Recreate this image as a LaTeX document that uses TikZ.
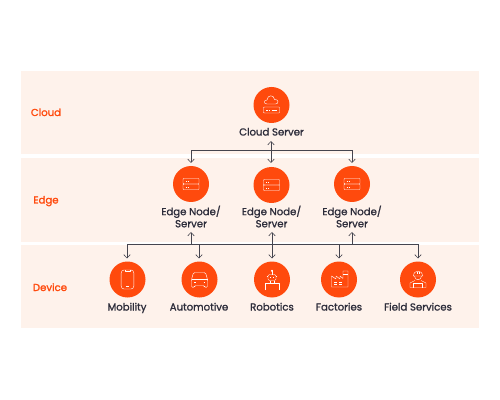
\documentclass[tikz,border=0pt]{standalone}
\usepackage{fontspec}
\setmainfont{Poppins}
\definecolor{bandfill}{HTML}{FEF2EB}
\definecolor{hubfill}{HTML}{FF4A0D}
\definecolor{linkgray}{HTML}{45454F}
\definecolor{captiontext}{HTML}{2C2C3A}
\usetikzlibrary{arrows.meta}
\tikzset{
  ico/.style={draw=white,line width=0.3pt,line join=round},
  pics/serverico/.style={code={
    \draw[ico,rounded corners=0.5] (-8,-5.5) rectangle (8,0);
    \draw[ico,rounded corners=0.5] (-8,0) rectangle (8,5.5);
    \draw[ico] (-5.5,-2.8)--(-4.5,-2.8) (-3.5,-2.8)--(-2.5,-2.8) (-5.5,2.8)--(-4.5,2.8) (-3.5,2.8)--(-2.5,2.8);
  }},
  pics/cloudico/.style={code={
    \draw[ico,rounded corners=0.5] (-8,2) rectangle (8,8);
    \draw[ico] (-5.5,5)--(-4,5) (-3,5)--(-1.5,5) (0,5)--(5.5,5);
    \draw[ico] (-4.5,-1) .. controls (-8,-1) and (-8,-5) .. (-4.5,-5) .. controls (-4,-10.5) and (2.5,-10.5) .. (3,-5.5) .. controls (7.5,-6) and (7.5,-1) .. (4,-1) -- cycle;
  }},
  pics/phoneico/.style={code={
    \draw[ico,rounded corners=2] (-6.3,-9.5) rectangle (6.3,9.5);
    \draw[ico] (-2.5,-9.5)--(-2.5,-8)--(2.5,-8)--(2.5,-9.5) (-1.5,7)--(1.5,7);
  }},
  pics/carico/.style={code={
    \draw[ico,rounded corners=1] (-8,8)--(-8,0)--(-6,-7)--(6,-7)--(8,0)--(8,8)--(5,8)--(5,6)--(-5,6)--(-5,8)--cycle;
    \draw[ico] (-8,0)--(8,0);
    \draw[ico] (-5.5,3)--(-4,3) (4,3)--(5.5,3);
  }},
  pics/robotico/.style={code={
    \draw[ico] (0,-8.5)--(0,-5);
    \draw[ico,fill=white] (0,-8.7) circle (0.8);
    \draw[ico,rounded corners=1] (-4,-5) rectangle (4,1);
    \draw[ico] (-5.3,-3)--(-4,-3) (5.3,-3)--(4,-3) (-2,-2.5)--(-1,-2.5) (1,-2.5)--(2,-2.5);
    \draw[ico] (-2,1)--(-2,3.5) (2,1)--(2,3.5);
    \draw[ico] (-7,10.5)--(-7,3.5)--(7,3.5)--(7,10.5);
  }},
  pics/plantico/.style={code={
    \draw[ico] (-7.5,7.5)--(-7.5,-3.5)--(-3,-0.5)--(-3,-3.5)--(1,-0.5)--(1,-3.5)--(4,-1)--(4,-8.5)--(9,-8.5)--(9,7.5)--cycle;
    \draw[ico] (4,-5)--(9,-5) (-5,2.5)--(-2.5,2.5) (0,2.5)--(3,2.5) (-5,5)--(-2.5,5) (0,5)--(3,5);
  }},
  pics/workerico/.style={code={
    \draw[ico] (-5,-3.5)--(5,-3.5) (-4.5,-3.5) .. controls (-4.5,-10) and (4.5,-10) .. (4.5,-3.5);
    \draw[ico] (-1.2,-8)--(-1.2,-5.5) (1.2,-8)--(1.2,-5.5);
    \draw[ico] (-3.5,-3.5) .. controls (-3.5,1.5) and (3.5,1.5) .. (3.5,-3.5);
    \draw[ico] (-3,1)--(-8,3.5)--(-8,8)--(8,8)--(8,3.5)--(3,1);
    \draw[ico] (-4.5,8)--(-4.5,3.5)--(4.5,3.5)--(4.5,8);
  }},
  lnk/.style={draw=linkgray,line width=0.5pt},
  arr/.style={lnk,-{Straight Barb[length=2.4pt,width=4.6pt,line width=0.45pt]}},
  dblarr/.style={lnk,{Straight Barb[length=2.4pt,width=4.6pt,line width=0.45pt]}-{Straight Barb[length=2.4pt,width=4.6pt,line width=0.45pt]}}
}
\begin{document}
\begin{tikzpicture}[x=0.025cm,y=-0.025cm,
  every node/.style={font=\fontsize{7.2}{8.6}\selectfont\addfontfeatures{FakeBold=1.2}},
  band/.style={fill=bandfill,draw=none,minimum width=458*0.025cm,inner sep=0pt,outer sep=0pt},
  tier/.style={text=hubfill,font=\fontsize{7.2}{8.6}\selectfont\addfontfeatures{FakeBold=1.6},anchor=base},
  hub/.style={circle,fill=hubfill,draw=none,minimum size=36*0.025cm,inner sep=0pt},
  capt/.style={text=captiontext,align=center,inner sep=0pt},
  captbase/.style={capt,anchor=base}
]
\useasboundingbox (0,0) rectangle (500,400);
\fill[white] (0,0) rectangle (500,400);
\node[band,minimum height=83*0.025cm] (cloudband) at (250,112.5) {};
\node[band,minimum height=84*0.025cm] (edgeband) at (250,200.5) {};
\node[band,minimum height=83*0.025cm] (deviceband) at (250,286.5) {};
\node[tier] (cloudlab) at (46,116) {Cloud};
\node[tier] (edgelab) at (46,203.5) {Edge};
\node[tier] (devicelab) at (50,291) {Device};
% top
\node[hub] (cs) at (271.5,105) {};
\pic at (cs) {cloudico};
\node[captbase] (cscap) at (271.5,135.5) {Cloud Server};
% edge row
\node[hub] (e1) at (191,184) {};
\node[hub] (e2) at (271.5,185) {};
\node[hub] (e3) at (352,184) {};
\pic at (e1) {serverico};
\pic at (e2) {serverico};
\pic at (e3) {serverico};
\node[capt] (e1cap) at (191,216.5) {Edge Node/\\Server};
\node[capt] (e2cap) at (271.5,216.5) {Edge Node/\\Server};
\node[capt] (e3cap) at (352,216.5) {Edge Node/\\Server};
% device row
\node[hub] (d1) at (127.5,279.5) {};
\node[hub] (d2) at (199.5,279.5) {};
\node[hub] (d3) at (272,279.5) {};
\node[hub] (d4) at (339,279.5) {};
\node[hub] (d5) at (418,279.5) {};
\pic at (d1) {phoneico};
\pic at (d2) {carico};
\pic at (d3) {robotico};
\pic at (d4) {plantico};
\pic at (d5) {workerico};
\node[captbase] (d1cap) at (127,310.5) {Mobility};
\node[captbase] (d2cap) at (199,310.5) {Automotive};
\node[captbase] (d3cap) at (272,310.5) {Robotics};
\node[captbase] (d4cap) at (339,310.5) {Factories};
\node[captbase] (d5cap) at (418,310.5) {Field Services};
% links upper
\coordinate (csup) at (271,141);
\coordinate (csdn) at (271,163);
\coordinate (e1top) at (191,163);
\coordinate (e3top) at (352,163);
\coordinate (upl) at (191,150.5);
\coordinate (upr) at (352,150.5);
\draw[dblarr] (csup)--(csdn);
\draw[arr] (upl)--(e1top);
\draw[arr] (upr)--(e3top);
\draw[lnk] (upl)--(upr);
% links lower
\coordinate (lol) at (127,244.5);
\coordinate (lor) at (418,244.5);
\coordinate (j1) at (191,244.5);
\coordinate (j2) at (199,244.5);
\coordinate (j3) at (339,244.5);
\coordinate (j4) at (352,244.5);
\coordinate (t1) at (191,232);
\coordinate (t2) at (272,232);
\coordinate (t3) at (352,232);
\coordinate (b1) at (127,258.5);
\coordinate (b2) at (199,258.5);
\coordinate (b3) at (272,258.5);
\coordinate (b4) at (339,258.5);
\coordinate (b5) at (418,258.5);
\draw[lnk] (lol)--(lor);
\draw[arr] (j1)--(t1);
\draw[arr] (j4)--(t3);
\draw[dblarr] (t2)--(b3);
\draw[arr] (lol)--(b1);
\draw[arr] (j2)--(b2);
\draw[arr] (j3)--(b4);
\draw[arr] (lor)--(b5);
\end{tikzpicture}
\end{document}
